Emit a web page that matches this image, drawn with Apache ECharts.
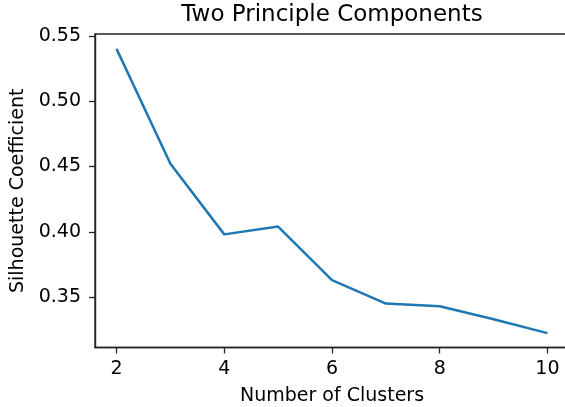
<!DOCTYPE html>
<html>
<head>
<meta charset="utf-8">
<script src="https://cdn.jsdelivr.net/npm/echarts@6/dist/echarts.min.js"></script>
<style>
  html, body { margin: 0; padding: 0; background: #fff; }
  #chart { width: 565px; height: 407px; }
</style>
</head>
<body>
<div id="chart"></div>
<script>
// Silhouette coefficient for each cluster count (two principal components)
const clusters = [2, 3, 4, 5, 6, 7, 8, 9, 10];
const silhouette = [0.540, 0.452, 0.398, 0.404, 0.363, 0.345, 0.343, 0.333, 0.3224];
const xTicks = [2, 4, 6, 8, 10];
const yTicks = [0.35, 0.40, 0.45, 0.50, 0.55];

const FONT = 'DejaVu Sans';
const TEXT = '#000';
const SPINE = '#262626';

const chart = echarts.init(document.getElementById('chart'), null, { renderer: 'canvas' });

chart.setOption({
  animation: false,
  backgroundColor: '#fff',
  title: {
    text: 'Two Principle Components',
    left: 327,
    top: -1,
    textAlign: 'center',
    textStyle: { fontFamily: FONT, fontSize: 23, fontWeight: 'normal', color: TEXT }
  },
  grid: {
    left: 95, top: 34, width: 474, height: 313.5,
    outerBoundsMode: 'none',
    containLabel: false,
    show: true, borderColor: SPINE, borderWidth: 1.4, backgroundColor: 'transparent'
  },
  xAxis: {
    type: 'value',
    min: 1.6, max: 10.4,
    name: 'Number of Clusters',
    nameLocation: 'middle',
    nameGap: 39,
    nameTextStyle: { fontFamily: FONT, fontSize: 19, color: TEXT },
    axisLine: { show: true, lineStyle: { color: SPINE, width: 1.4 } },
    axisTick: { show: true, length: 6, lineStyle: { color: SPINE, width: 1.3 }, customValues: xTicks },
    axisLabel: { fontFamily: FONT, fontSize: 19, color: TEXT, margin: 12, customValues: xTicks },
    splitLine: { show: false }
  },
  yAxis: {
    type: 'value',
    min: 0.3114, max: 0.5514,
    name: 'Silhouette Coefficient',
    nameLocation: 'middle',
    nameGap: 64,
    nameRotate: 90,
    nameTextStyle: { fontFamily: FONT, fontSize: 19, color: TEXT },
    axisLine: { show: true, lineStyle: { color: SPINE, width: 1.4 } },
    axisTick: { show: true, length: 6, lineStyle: { color: SPINE, width: 1.3 }, customValues: yTicks },
    axisLabel: {
      fontFamily: FONT, fontSize: 19, color: TEXT, margin: 14, customValues: yTicks,
      formatter: v => v.toFixed(2)
    },
    splitLine: { show: false }
  },
  series: [{
    type: 'line',
    data: clusters.map((c, i) => [c, silhouette[i]]),
    showSymbol: false,
    lineStyle: { color: '#1f77b4', width: 2.5 },
    itemStyle: { color: '#1f77b4' }
  }]
});
</script>
</body>
</html>
